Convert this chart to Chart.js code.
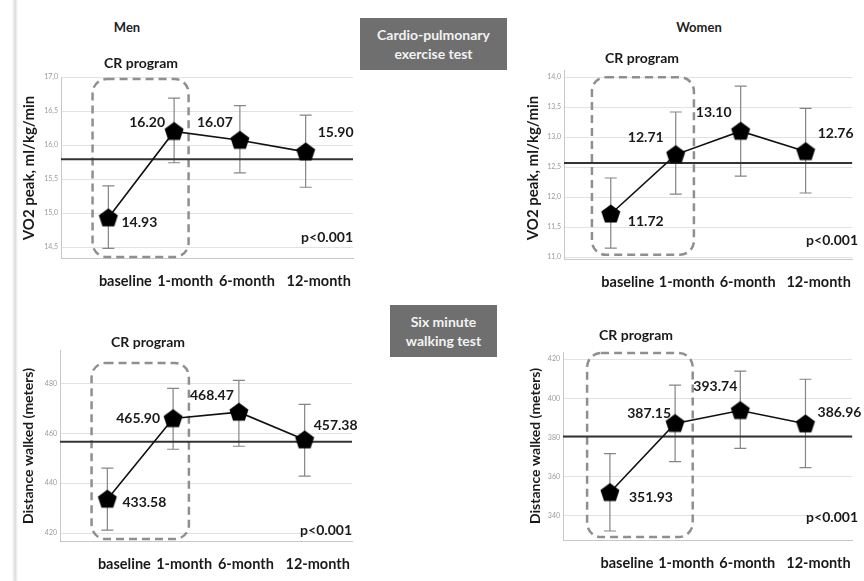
<!DOCTYPE html>
<html>
<head>
<meta charset="utf-8">
<script src="https://cdn.jsdelivr.net/npm/chart.js@4.4.1/dist/chart.umd.min.js"></script>
<style>
  body { margin: 0; background: #fff; }
  #page { position: relative; width: 864px; height: 581px; overflow: hidden; font-family: Lato, 'Open Sans', sans-serif; }
  #page canvas { position: absolute; left: 0; top: 0; }
  .hdr { position: absolute; font-weight: bold; font-size: 13px; color: #222; transform: translate(-50%, -50%); white-space: nowrap; }
  .tag { position: absolute; background: #6f6f6f; color: #f2f2f2; font-weight: bold; font-size: 14px; line-height: 19px;
         display: flex; flex-direction: column; justify-content: center; align-items: center; }
  .shade { position: absolute; left: 12px; top: 0; width: 6px; height: 581px; background: linear-gradient(to right, #fff, #dcdcdc, #fff); }
</style>
</head>
<body>
<div id="page">
  <div class="shade"></div>
  <div class="hdr" style="left:127px;top:27px">Men</div>
  <div class="hdr" style="left:699px;top:27px">Women</div>
  <div class="tag" style="left:360px;top:18px;width:147px;height:52px"><span>Cardio-pulmonary</span><span>exercise test</span></div>
  <div class="tag" style="left:390px;top:305px;width:107px;height:52px"><span>Six minute</span><span>walking test</span></div>
</div>
<script>
// Kategori waktu
var timeLabels = ['baseline', '1-month', '6-month', '12-month'];

// VO2 peak - pria
var menVo2Mean = [14.93, 16.20, 16.07, 15.90];
var menVo2Low = [14.48, 15.74, 15.59, 15.38];
var menVo2High = [15.40, 16.69, 16.58, 16.44];
var menVo2Ticks = [14.5, 15.0, 15.5, 16.0, 16.5, 17.0];
var menVo2Ref = 15.79;

// VO2 peak - wanita
var womenVo2Mean = [11.72, 12.71, 13.10, 12.76];
var womenVo2Low = [11.15, 12.05, 12.35, 12.07];
var womenVo2High = [12.32, 13.42, 13.85, 13.48];
var womenVo2Ticks = [11.0, 11.5, 12.0, 12.5, 13.0, 13.5, 14.0];
var womenVo2Ref = 12.57;

// 6MWT - pria
var menWalkMean = [433.58, 465.90, 468.47, 457.38];
var menWalkLow = [421.2, 453.6, 454.8, 442.8];
var menWalkHigh = [446.0, 478.0, 481.2, 471.6];
var menWalkTicks = [420, 440, 460, 480];
var menWalkRef = 456.6;

// 6MWT - wanita
var womenWalkMean = [351.93, 387.15, 393.74, 386.96];
var womenWalkLow = [332.3, 367.7, 374.4, 364.6];
var womenWalkHigh = [371.8, 406.7, 413.8, 409.7];
var womenWalkTicks = [340, 360, 380, 400, 420];
var womenWalkRef = 380.5;

var X_MIN = -0.72, X_MAX = 3.72;
var W = 864, H = 581;
var FONT = 'Lato, "Open Sans", sans-serif';

// Marker segilima
function makePentagon() {
    var c = document.createElement('canvas');
    c.width = 22; c.height = 22;
    var g = c.getContext('2d');
    var r = 10, cx = 11, cy = 11.5;
    g.beginPath();
    for (var k = 0; k < 5; k++) {
        var a = -Math.PI / 2 + k * 2 * Math.PI / 5;
        var px = cx + r * Math.cos(a), py = cy + r * Math.sin(a);
        if (k === 0) g.moveTo(px, py); else g.lineTo(px, py);
    }
    g.closePath();
    g.fillStyle = '#000';
    g.fill();
    return c;
}
var pentagon = makePentagon();

function commaFmt(v) { return Number(v).toFixed(1).replace('.', ','); }
function intFmt(v) { return String(Math.round(v)); }

function roundBox(ctx, x0, y0, x1, y1, r) {
    ctx.beginPath();
    ctx.moveTo(x0 + r, y0);
    ctx.lineTo(x1 - r, y0);
    ctx.arcTo(x1, y0, x1, y0 + r, r);
    ctx.lineTo(x1, y1 - r);
    ctx.arcTo(x1, y1, x1 - r, y1, r);
    ctx.lineTo(x0 + r, y1);
    ctx.arcTo(x0, y1, x0, y1 - r, r);
    ctx.lineTo(x0, y0 + r);
    ctx.arcTo(x0, y0, x0 + r, y0, r);
    ctx.closePath();
}

function makePanel(cfg) {
    var canvas = document.createElement('canvas');
    canvas.width = W; canvas.height = H;
    document.getElementById('page').appendChild(canvas);

    var decor = {
        id: 'decor',
        beforeDatasetsDraw: function (chart) {
            var ctx = chart.ctx, xs = chart.scales.x, ys = chart.scales.y;
            ctx.save();
            // kotak CR program
            ctx.setLineDash([8, 5]);
            ctx.lineWidth = 2.5;
            ctx.strokeStyle = '#8f8f8f';
            roundBox(ctx, xs.getPixelForValue(cfg.box[0]), ys.getPixelForValue(cfg.box[2]),
                xs.getPixelForValue(cfg.box[1]), ys.getPixelForValue(cfg.box[3]), 14);
            ctx.stroke();
            ctx.setLineDash([]);
            // error bar
            ctx.strokeStyle = '#858585';
            ctx.lineWidth = 1.2;
            cfg.mean.forEach(function (m, i) {
                var x = xs.getPixelForValue(i);
                var yl = ys.getPixelForValue(cfg.low[i]);
                var yh = ys.getPixelForValue(cfg.high[i]);
                ctx.beginPath();
                ctx.moveTo(x, yl); ctx.lineTo(x, yh);
                ctx.moveTo(x - 6, yl); ctx.lineTo(x + 6, yl);
                ctx.moveTo(x - 6, yh); ctx.lineTo(x + 6, yh);
                ctx.stroke();
            });
            ctx.restore();
        },
        afterDatasetsDraw: function (chart) {
            var ctx = chart.ctx, xs = chart.scales.x, ys = chart.scales.y, area = chart.chartArea;
            ctx.save();
            ctx.fillStyle = '#1a1a1a';
            ctx.font = 'bold 14px ' + FONT;
            ctx.textAlign = 'center';
            ctx.textBaseline = 'middle';
            cfg.mean.forEach(function (m, i) {
                var x = xs.getPixelForValue(i), y = ys.getPixelForValue(m);
                ctx.fillText(m.toFixed(2), x + cfg.lab[i][0], y + cfg.lab[i][1]);
            });
            // label sumbu x
            var xOff = [17, 11, 7, 13];
            ctx.font = 'bold 14.5px ' + FONT;
            timeLabels.forEach(function (t, i) {
                ctx.fillText(t, xs.getPixelForValue(i) + xOff[i], area.bottom + 23);
            });
            ctx.font = 'bold 14px ' + FONT;
            ctx.fillText('CR program', cfg.cr[0], cfg.cr[1]);
            ctx.textAlign = 'right';
            ctx.fillText('p<0.001', cfg.p[0], cfg.p[1]);
            // judul sumbu y
            ctx.translate(cfg.yTitle[0], cfg.yTitle[1]);
            ctx.rotate(-Math.PI / 2);
            ctx.textAlign = 'center';
            ctx.font = 'bold ' + cfg.yTitleSize + 'px ' + FONT;
            ctx.fillText(cfg.yTitleText, 0, 0);
            ctx.restore();
        }
    };

    return new Chart(canvas.getContext('2d'), {
        type: 'line',
        data: {
            datasets: [
                {
                    data: cfg.mean.map(function (v, i) { return { x: i, y: v }; }),
                    borderColor: '#111',
                    borderWidth: 1.6,
                    pointStyle: pentagon,
                    pointRadius: 10,
                    tension: 0
                },
                {
                    data: [{ x: X_MIN, y: cfg.ref }, { x: X_MAX, y: cfg.ref }],
                    borderColor: '#333',
                    borderWidth: 2,
                    pointRadius: 0
                }
            ]
        },
        options: {
            responsive: false,
            animation: false,
            events: [],
            layout: { padding: { left: cfg.area.l - 40, right: W - cfg.area.r, top: cfg.area.t, bottom: H - cfg.area.b } },
            scales: {
                x: {
                    type: 'linear', min: X_MIN, max: X_MAX,
                    grid: { display: false },
                    ticks: { display: false },
                    border: { color: '#c8c8c8' },
                    afterFit: function (s) { s.height = 0; }
                },
                y: {
                    min: cfg.yMin, max: cfg.yMax,
                    afterBuildTicks: function (s) { s.ticks = cfg.ticks.map(function (v) { return { value: v }; }); },
                    ticks: { font: { size: 7, family: FONT }, color: '#9a9a9a', padding: 3, callback: cfg.fmt },
                    grid: { color: '#e2e2e2', drawTicks: false },
                    border: { color: '#c8c8c8' },
                    afterFit: function (s) { s.width = 40; }
                }
            },
            plugins: { legend: { display: false }, tooltip: { enabled: false } }
        },
        plugins: [decor]
    });
}

makePanel({
    mean: menVo2Mean, low: menVo2Low, high: menVo2High, ticks: menVo2Ticks, ref: menVo2Ref, fmt: commaFmt,
    area: { l: 61, t: 77, r: 353, b: 258 }, yMin: 14.34, yMax: 17.0,
    box: [-0.24, 1.22, 16.97, 14.355],
    lab: [[31, 5], [-27, -9], [-25, -18], [30, -19]],
    cr: [141, 63], p: [353, 237], yTitle: [29, 168], yTitleText: 'VO2 peak, ml/kg/min', yTitleSize: 15
});
makePanel({
    mean: womenVo2Mean, low: womenVo2Low, high: womenVo2High, ticks: womenVo2Ticks, ref: womenVo2Ref, fmt: commaFmt,
    area: { l: 564, t: 70, r: 855, b: 259 }, yMin: 10.97, yMax: 14.12,
    box: [-0.29, 1.28, 14.0, 11.04],
    lab: [[35, 7], [-30, -17], [-27, -19], [30, -18]],
    cr: [642, 58], p: [858, 240], yTitle: [533, 168], yTitleText: 'VO2 peak, ml/kg/min', yTitleSize: 15
});
makePanel({
    mean: menWalkMean, low: menWalkLow, high: menWalkHigh, ticks: menWalkTicks, ref: menWalkRef, fmt: intFmt,
    area: { l: 60, t: 350, r: 352, b: 541 }, yMin: 416.8, yMax: 493.4,
    box: [-0.24, 1.24, 488.2, 417.6],
    lab: [[37, 3], [-35, 0], [-27, -17], [31, -14]],
    cr: [148, 342], p: [352, 530], yTitle: [28, 446], yTitleText: 'Distance walked (meters)', yTitleSize: 14
});
makePanel({
    mean: womenWalkMean, low: womenWalkLow, high: womenWalkHigh, ticks: womenWalkTicks, ref: womenWalkRef, fmt: intFmt,
    area: { l: 563, t: 352, r: 855, b: 540 }, yMin: 327.7, yMax: 423.6,
    box: [-0.35, 1.27, 423.1, 329.2],
    lab: [[41, 5], [-26, -10], [-25, -24], [34, -11]],
    cr: [636, 335], p: [858, 517], yTitle: [535, 446], yTitleText: 'Distance walked (meters)', yTitleSize: 14
});
</script>
</body>
</html>
